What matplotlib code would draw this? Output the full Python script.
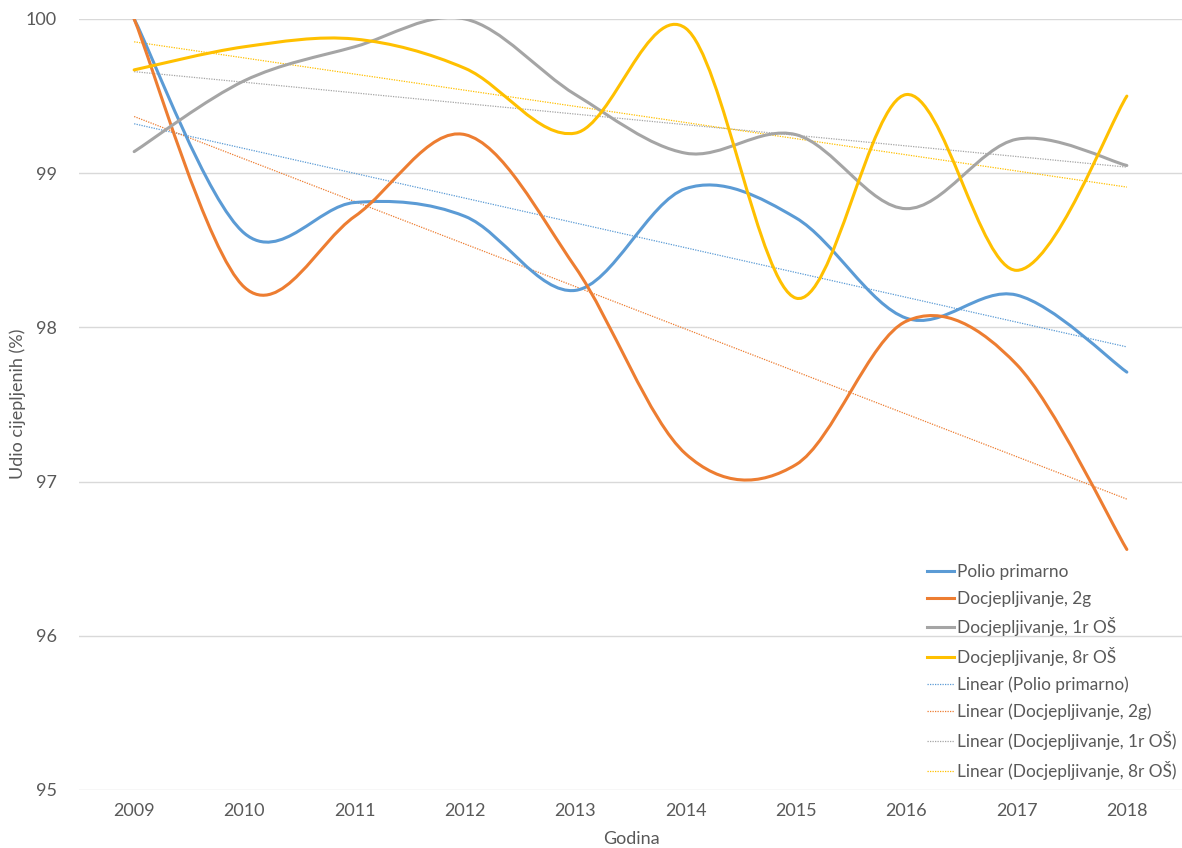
import numpy as np
import matplotlib
matplotlib.use("Agg")
import matplotlib.pyplot as plt
from matplotlib.path import Path
from matplotlib.patches import PathPatch
from matplotlib.lines import Line2D

plt.rcParams['font.family'] = ['Lato', 'DejaVu Sans']

years = [2009, 2010, 2011, 2012, 2013, 2014, 2015, 2016, 2017, 2018]
polio = [100.0, 98.61, 98.81, 98.72, 98.24, 98.90, 98.71, 98.06, 98.21, 97.71]
doc_2g = [100.0, 98.26, 98.72, 99.25, 98.39, 97.18, 97.11, 98.04, 97.76, 96.56]
doc_1r = [99.14, 99.60, 99.82, 100.0, 99.51, 99.13, 99.25, 98.77, 99.22, 99.05]
doc_8r = [99.67, 99.82, 99.87, 99.68, 99.26, 99.94, 98.19, 99.51, 98.37, 99.50]

names = ["Polio primarno", "Docjepljivanje, 2g", "Docjepljivanje, 1r OŠ", "Docjepljivanje, 8r OŠ"]
colors = ["#5B9BD5", "#ED7D31", "#A5A5A5", "#FFC000"]
series = [polio, doc_2g, doc_1r, doc_8r]

W, H = 1182, 848
fig = plt.figure(figsize=(W / 100, H / 100), dpi=100)
ax = fig.add_axes([79 / W, 1 - 790 / H, (1182 - 79) / W, (790 - 19) / H])

def smooth_path(x, y):
    x = np.asarray(x, float); y = np.asarray(y, float)
    n = len(x)
    verts = [(x[0], y[0])]
    codes = [Path.MOVETO]
    for i in range(n - 1):
        p0 = np.array([x[max(i - 1, 0)], y[max(i - 1, 0)]])
        p1 = np.array([x[i], y[i]])
        p2 = np.array([x[i + 1], y[i + 1]])
        p3 = np.array([x[min(i + 2, n - 1)], y[min(i + 2, n - 1)]])
        c1 = p1 + (p2 - p0) / 6.0
        c2 = p2 - (p3 - p1) / 6.0
        verts += [tuple(c1), tuple(c2), tuple(p2)]
        codes += [Path.CURVE4] * 3
    return Path(verts, codes)

handles = []
for vals, c, nm in zip(series, colors, names):
    patch = PathPatch(smooth_path(years, vals), facecolor='none', edgecolor=c,
                      lw=2.2, capstyle='round', joinstyle='round', zorder=3)
    ax.add_patch(patch)
    handles.append(Line2D([], [], color=c, lw=2.2, label=nm))

for vals, c, nm in zip(series, colors, names):
    k, b = np.polyfit(years, vals, 1)
    xs = np.array([years[0], years[-1]])
    ax.plot(xs, k * xs + b, color=c, lw=0.9, ls=(0, (1, 1)), zorder=2)
    handles.append(Line2D([], [], color=c, lw=0.9, ls=(0, (1, 1)), label=f"Linear ({nm})"))

ax.set_xlim(2008.5, 2018.5)
ax.set_ylim(95, 100)
ax.set_xticks(years)
ax.set_yticks([95, 96, 97, 98, 99, 100])
ax.grid(axis='y', color='#D9D9D9', lw=1)
ax.set_axisbelow(True)
for s in ax.spines.values():
    s.set_visible(False)
ax.tick_params(length=0, labelsize=13, colors='#595959')
ax.tick_params(axis='x', pad=9)
ax.tick_params(axis='y', pad=16)
fig.text(631 / W, 1 - 839 / H, "Godina", fontsize=13, color='#595959',
         ha='center', va='center')
fig.text(18 / W, 1 - 404 / H, "Udio cijepljenih (%)", fontsize=13, color='#595959',
         ha='center', va='center', rotation=90)

leg = fig.legend(handles=handles, loc='upper left', bbox_to_anchor=(920 / W, 1 - 557 / H),
                 frameon=False, fontsize=12.4, handlelength=1.55, handletextpad=0.2,
                 labelspacing=0.62, borderaxespad=0)
for t in leg.get_texts():
    t.set_color('#595959')

fig.savefig("out.png", dpi=100)
